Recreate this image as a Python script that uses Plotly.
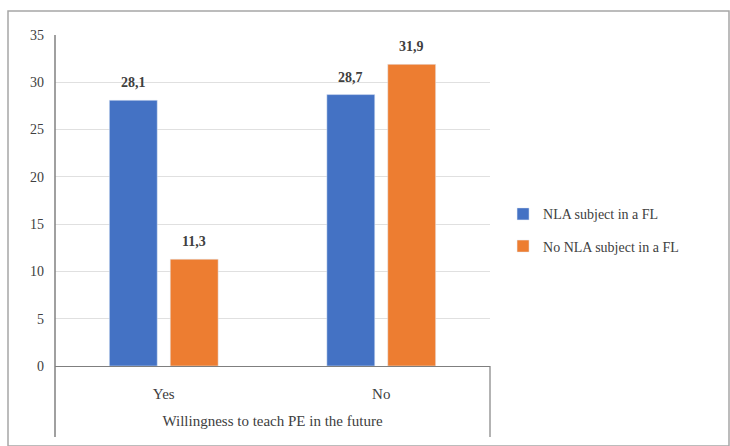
import plotly.graph_objects as go

categories = ["Yes", "No"]
nla_values = [28.1, 28.7]
no_nla_values = [11.3, 31.9]
nla_labels = ["28,1", "28,7"]
no_nla_labels = ["11,3", "31,9"]
series_names = ["NLA subject in a FL", "No NLA subject in a FL"]
y_ticks = [0, 5, 10, 15, 20, 25, 30, 35]

FONT = "Liberation Serif"
LABEL_COLOR = "#404040"

fig = go.Figure()
fig.add_trace(go.Bar(x=categories, y=nla_values, name=series_names[0],
                     marker_color="#4472C4", legendgroup="a"))
fig.add_trace(go.Bar(x=categories, y=no_nla_values, name=series_names[1],
                     marker_color="#ED7D31", legendgroup="b"))

L, R, T, B = 55, 240, 35, 80
W, H = 730, 446
pw = W - L - R
ph = H - T - B

BARGAP = 0.44
GROUPGAP = 0.213
slot = pw / len(categories) * (1 - BARGAP) / 2

annotations = []
for vals, labs, sign in [(nla_values, nla_labels, -1), (no_nla_values, no_nla_labels, 1)]:
    for c, v, t in zip(categories, vals, labs):
        annotations.append(dict(x=c, y=v, text="<b>" + t + "</b>", showarrow=False,
                                xref="x", yref="y", yanchor="bottom", yshift=8,
                                xshift=sign * slot / 2,
                                font=dict(family=FONT, size=14, color=LABEL_COLOR)))


def px_x(x):
    return (x - L) / pw


def px_y(y):
    return (H - B - y) / ph


shapes = [
    dict(type="rect", xref="paper", yref="paper", x0=px_x(8), x1=px_x(729), y0=px_y(446), y1=px_y(11),
         line=dict(color="#a6a6a6", width=1.5), layer="below"),
    dict(type="line", xref="paper", yref="paper", x0=0, x1=0, y0=px_y(437), y1=1.0,
         line=dict(color="#808080", width=1.5)),
    dict(type="line", xref="paper", yref="paper", x0=1, x1=1, y0=px_y(437), y1=0,
         line=dict(color="#808080", width=1.2)),
]

fig.update_layout(
    width=W, height=H,
    margin=dict(l=L, r=R, t=T, b=B),
    paper_bgcolor="white", plot_bgcolor="white",
    barmode="group", bargap=BARGAP, bargroupgap=GROUPGAP,
    font=dict(family=FONT, size=14, color=LABEL_COLOR),
    showlegend=True,
    legend=dict(x=1.03, y=0.41, xanchor="left", yanchor="middle",
                font=dict(family=FONT, size=14, color=LABEL_COLOR),
                itemwidth=30, tracegroupgap=11),
    shapes=shapes,
    annotations=annotations,
    xaxis=dict(showline=True, linecolor="#7f7f7f", linewidth=1.2, ticks="",
               tickfont=dict(family=FONT, size=15, color=LABEL_COLOR),
               ticklabelstandoff=14,
               title=dict(text="Willingness to teach PE in the future",
                          font=dict(family=FONT, size=15, color=LABEL_COLOR), standoff=14)),
    yaxis=dict(range=[0, 35], tickvals=y_ticks, showgrid=True, gridcolor="#e0e0e0",
               showline=False, zeroline=False, ticks="",
               tickfont=dict(family=FONT, size=14, color=LABEL_COLOR),
               ticklabelstandoff=10),
)

fig.write_html("out.html")
